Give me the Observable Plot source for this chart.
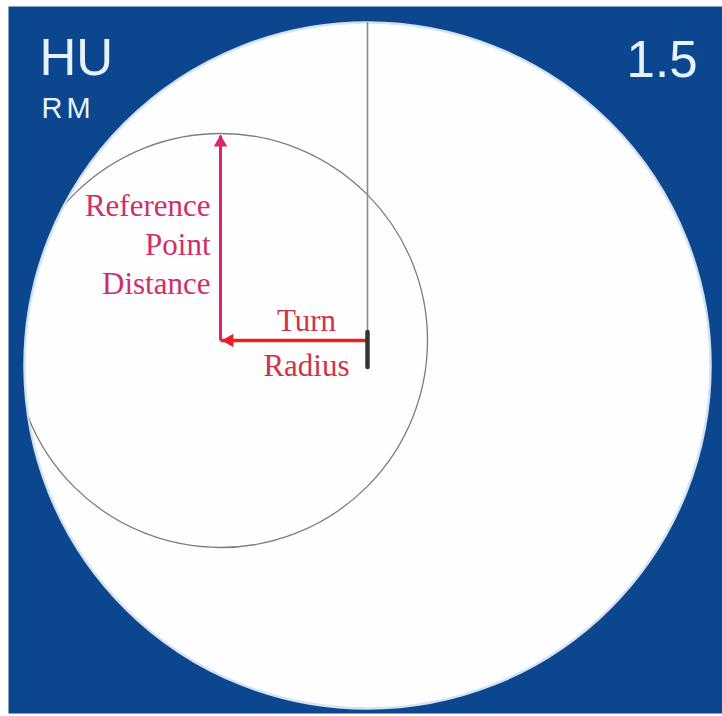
<!DOCTYPE html>
<html>
<head>
<meta charset="utf-8">
<script src="https://cdn.jsdelivr.net/npm/d3@7"></script>
<script src="https://cdn.jsdelivr.net/npm/@observablehq/plot@0.6"></script>
<style>
  html, body { margin: 0; padding: 0; background: #ffffff; }
  #chart svg { display: block; }
</style>
</head>
<body>
<div id="chart"></div>
<script>
// ---- data (diagram units; boat at origin) ----
const rangeCenter = [{x: 0, y: -25}];      // centre of the range ring
const rangeRadius = [343];                  // range ring radius
const turnRadius = [147];                   // boat -> turn centre
const refPointDistance = [205];             // turn centre -> reference point
const turnCircleRadius = [207];             // circle drawn round the turn centre
const boatExtent = [8, -27];                // boat icon top / bottom
const cornerLabels = ["HU", "RM", "1.5"];
const refLabel = ["Reference\nPoint\nDistance"];
const turnLabels = ["Turn", "Radius"];

// ---- derived tables ----
const tc = {x: -turnRadius[0], y: 0};
const ringTable = [{x: rangeCenter[0].x, y: rangeCenter[0].y, r: rangeRadius[0]}];
const turnCircle = [{x: tc.x, y: tc.y, r: turnCircleRadius[0]}];
const headingTop = rangeCenter[0].y + rangeRadius[0];
const turnArrow = [{x1: 0, y1: 0, x2: tc.x, y2: 0}];
const refArrow = [{x1: tc.x, y1: 0, x2: tc.x, y2: refPointDistance[0]}];
const heads = [
  {x: tc.x + 9, y: 0, rot: -90, c: "#e8202a"},
  {x: tc.x, y: refPointDistance[0] - 7, rot: 0, c: "#e0246c"}
];

const plot = Plot.plot({
  width: 722,
  height: 716,
  margin: 0,
  x: {domain: [-367, 355], axis: null},
  y: {domain: [-376, 340], axis: null},
  r: {type: "identity"},
  style: {background: "#ffffff"},
  marks: [
    Plot.frame({fill: "#0b468e", stroke: "none", insetLeft: 8, insetTop: 6, insetBottom: 3}),
    Plot.dot(ringTable, {x: "x", y: "y", r: "r", fill: "#fefefe", stroke: "#d4e3f1", strokeWidth: 2.5, ariaDescription: "ring"}),
    Plot.dot(turnCircle, {x: "x", y: "y", r: "r", fill: "none", stroke: "#7d7d7d", strokeWidth: 1.3, ariaDescription: "turn-circle"}),
    Plot.ruleX([0], {y1: headingTop, y2: boatExtent[1], stroke: "#8c8c8c", strokeWidth: 1.6}),
    Plot.link(refArrow, {x1: "x1", y1: "y1", x2: "x2", y2: "y2", stroke: "#e0246c", strokeWidth: 3}),
    Plot.link(turnArrow, {x1: "x1", y1: "y1", x2: "x2", y2: "y2", stroke: "#e8202a", strokeWidth: 3.5}),
    Plot.dot(heads, {x: "x", y: "y", symbol: "triangle", r: 5, rotate: "rot", fill: "c", stroke: "none"}),
    Plot.ruleX([0], {y1: boatExtent[0], y2: boatExtent[1], stroke: "#2c3838", strokeWidth: 4.5, strokeLinecap: "round"}),
    Plot.text(refLabel, {x: tc.x - 10, y: 47, text: d => d, textAnchor: "end", lineAnchor: "bottom",
      lineHeight: 1.25, fontSize: 31, fontFamily: "Liberation Serif", fill: "#cf2e6a"}),
    Plot.text([turnLabels[0]], {x: -61, y: 10, text: d => d, textAnchor: "middle", lineAnchor: "bottom",
      fontSize: 31, fontFamily: "Liberation Serif", fill: "#d03348"}),
    Plot.text([turnLabels[1]], {x: -61, y: -35, text: d => d, textAnchor: "middle", lineAnchor: "bottom",
      fontSize: 31, fontFamily: "Liberation Serif", fill: "#d03348"}),
    Plot.text([cornerLabels[0]], {frameAnchor: "top-left", dx: 39, dy: 38, text: d => d, textAnchor: "start",
      lineAnchor: "top", fontSize: 51, fontFamily: "Liberation Sans", fill: "#e6f2fd"}),
    Plot.text([cornerLabels[1]], {frameAnchor: "top-left", dx: 41, dy: 97, text: d => d, textAnchor: "start",
      lineAnchor: "top", fontSize: 29, fontFamily: "Liberation Sans", fill: "#e6f2fd"}),
    Plot.text([cornerLabels[2]], {frameAnchor: "top-right", dx: -25, dy: 40, text: d => d, textAnchor: "end",
      lineAnchor: "top", fontSize: 51, fontFamily: "Liberation Sans", fill: "#e6f2fd"})
  ]
});

const svg = d3.select(plot);
svg.selectAll("text").filter(function () { return this.textContent === "RM"; })
  .attr("letter-spacing", "4px");

// clip the turn circle to the range ring (it is only shown on the display)
const dotGroups = svg.selectAll('g[aria-label="dot"]').nodes();
let ringG = svg.select('g[aria-description="ring"]');
let turnG = svg.select('g[aria-description="turn-circle"]');
if (ringG.empty() && dotGroups.length >= 2) ringG = d3.select(dotGroups[0]);
if (turnG.empty() && dotGroups.length >= 2) turnG = d3.select(dotGroups[1]);
const ring = ringG.select("circle");
if (!ring.empty() && !turnG.empty()) {
  const defs = svg.insert("defs", ":first-child");
  const cp = defs.append("clipPath").attr("id", "ring-clip").attr("clipPathUnits", "userSpaceOnUse");
  const c = ring.node().cloneNode(true);
  c.removeAttribute("fill"); c.removeAttribute("stroke");
  cp.node().appendChild(c);
  const gtf = ringG.attr("transform");
  if (gtf) d3.select(c).attr("transform", gtf + " " + (d3.select(c).attr("transform") || ""));
  turnG.attr("clip-path", "url(#ring-clip)");
}

document.getElementById("chart").appendChild(plot);
</script>
</body>
</html>
